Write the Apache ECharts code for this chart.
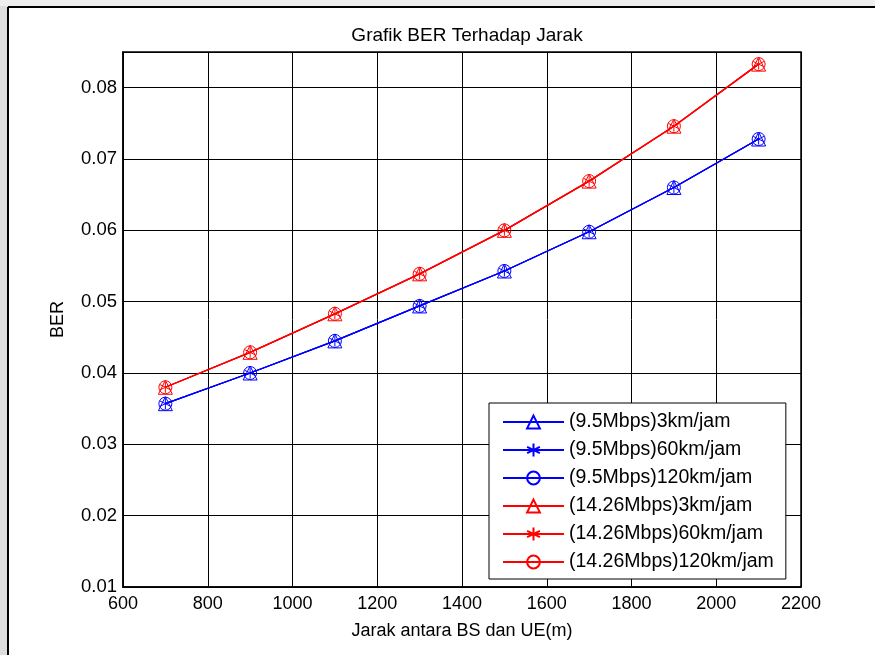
<!DOCTYPE html>
<html>
<head>
<meta charset="utf-8">
<script src="https://cdn.jsdelivr.net/npm/echarts@6/dist/echarts.min.js"></script>
<style>
html,body{margin:0;padding:0;background:#fff;}
#chart{width:875px;height:655px;}
</style>
</head>
<body>
<div id="chart"></div>
<script>
// Data
const distances = [700, 900, 1100, 1300, 1500, 1700, 1900, 2100];
const ber_9_5_3km    = [0.0357, 0.0400, 0.0445, 0.0494, 0.0543, 0.0598, 0.0660, 0.0728];
const ber_9_5_60km   = [0.0357, 0.0400, 0.0445, 0.0494, 0.0543, 0.0598, 0.0660, 0.0728];
const ber_9_5_120km  = [0.0357, 0.0400, 0.0445, 0.0494, 0.0543, 0.0598, 0.0660, 0.0728];
const ber_14_26_3km  = [0.0380, 0.0429, 0.0483, 0.0539, 0.0600, 0.0669, 0.0746, 0.0833];
const ber_14_26_60km = [0.0380, 0.0429, 0.0483, 0.0539, 0.0600, 0.0669, 0.0746, 0.0833];
const ber_14_26_120km= [0.0380, 0.0429, 0.0483, 0.0539, 0.0600, 0.0669, 0.0746, 0.0833];
const seriesNames = [
  '(9.5Mbps)3km/jam', '(9.5Mbps)60km/jam', '(9.5Mbps)120km/jam',
  '(14.26Mbps)3km/jam', '(14.26Mbps)60km/jam', '(14.26Mbps)120km/jam'
];
const xTicks = {min: 600, max: 2200, step: 200};
const yTicks = {min: 0.01, max: 0.085, step: 0.01};

const FONT = '"Liberation Sans", Arial, Helvetica, sans-serif';
const BLUE = '#0000ff', RED = '#ff0000';
const STAR = 'path://M5,0 L5,10 M0.67,2.5 L9.33,7.5 M0.67,7.5 L9.33,2.5';

function pairs(vals){ return distances.map((d,i)=>[d, vals[i]]); }
function mk(name, vals, color, symbol, size){
  return {
    name: name, type: 'line', data: pairs(vals),
    symbol: symbol, symbolSize: size, showAllSymbol: true,
    color: color,
    lineStyle: {color: color, width: 1.3},
    itemStyle: {color: 'rgba(0,0,0,0)', borderColor: color, borderWidth: 1},
    emphasis: {disabled: true},
    z: 3
  };
}

const chart = echarts.init(document.getElementById('chart'), null, {renderer: 'canvas'});
chart.setOption({
  animation: false,
  backgroundColor: '#ffffff',
  graphic: [
    {type: 'rect', shape: {x: 0, y: 0, width: 8, height: 655}, style: {fill: '#dedede'}, z: -10},
    {type: 'rect', shape: {x: 0, y: 0, width: 875, height: 6}, style: {fill: '#eeeeee'}, z: -10},
    {type: 'line', shape: {x1: 8, y1: 7, x2: 875, y2: 7}, style: {stroke: '#000', lineWidth: 2}},
    {type: 'line', shape: {x1: 8, y1: 7, x2: 8, y2: 655}, style: {stroke: '#000', lineWidth: 2}}
  ],
  title: {
    text: 'Grafik BER Terhadap Jarak',
    left: 462, top: 21, textAlign: 'center',
    textStyle: {fontFamily: FONT, fontSize: 19, fontWeight: 'normal', color: '#000'}
  },
  grid: {left: 123, top: 52, width: 678, height: 535, show: true, borderColor: '#000', borderWidth: 1.5, backgroundColor: 'transparent'},
  xAxis: {
    type: 'value', min: xTicks.min, max: xTicks.max, interval: xTicks.step,
    name: 'Jarak antara BS dan UE(m)', nameLocation: 'middle', nameGap: 35,
    nameTextStyle: {fontFamily: FONT, fontSize: 18, color: '#000'},
    axisLine: {show: true, lineStyle: {color: '#000', width: 1.5}},
    axisTick: {show: true, inside: true, length: 5, lineStyle: {color: '#000'}},
    axisLabel: {fontFamily: FONT, fontSize: 18, color: '#000', margin: 8, formatter: v => String(v)},
    splitLine: {show: true, lineStyle: {color: '#000', width: 1}}
  },
  yAxis: {
    type: 'value', min: yTicks.min, max: yTicks.max, interval: yTicks.step,
    name: 'BER', nameLocation: 'middle', nameGap: 56, nameRotate: 90,
    nameTextStyle: {fontFamily: FONT, fontSize: 18, color: '#000'},
    axisLine: {show: true, lineStyle: {color: '#000', width: 1.5}},
    axisTick: {show: true, inside: true, length: 5, lineStyle: {color: '#000'}},
    axisLabel: {fontFamily: FONT, fontSize: 18.5, color: '#000', margin: 6, showMaxLabel: false,
      formatter: v => v.toFixed(2)},
    splitLine: {show: true, lineStyle: {color: '#000', width: 1}}
  },
  legend: {
    orient: 'vertical', left: 489, top: 403,
    padding: [9, 12, 7, 13],
    itemWidth: 61, itemHeight: 16, itemGap: 8,
    backgroundColor: '#fff', borderColor: '#000', borderWidth: 1,
    textStyle: {fontFamily: FONT, fontSize: 19.5, color: '#000'},
    data: seriesNames
  },
  series: [
    mk(seriesNames[0], ber_9_5_3km, BLUE, 'triangle', 14),
    mk(seriesNames[1], ber_9_5_60km, BLUE, STAR, 11),
    mk(seriesNames[2], ber_9_5_120km, BLUE, 'circle', 13),
    mk(seriesNames[3], ber_14_26_3km, RED, 'triangle', 14),
    mk(seriesNames[4], ber_14_26_60km, RED, STAR, 11),
    mk(seriesNames[5], ber_14_26_120km, RED, 'circle', 13)
  ]
});
</script>
</body>
</html>
